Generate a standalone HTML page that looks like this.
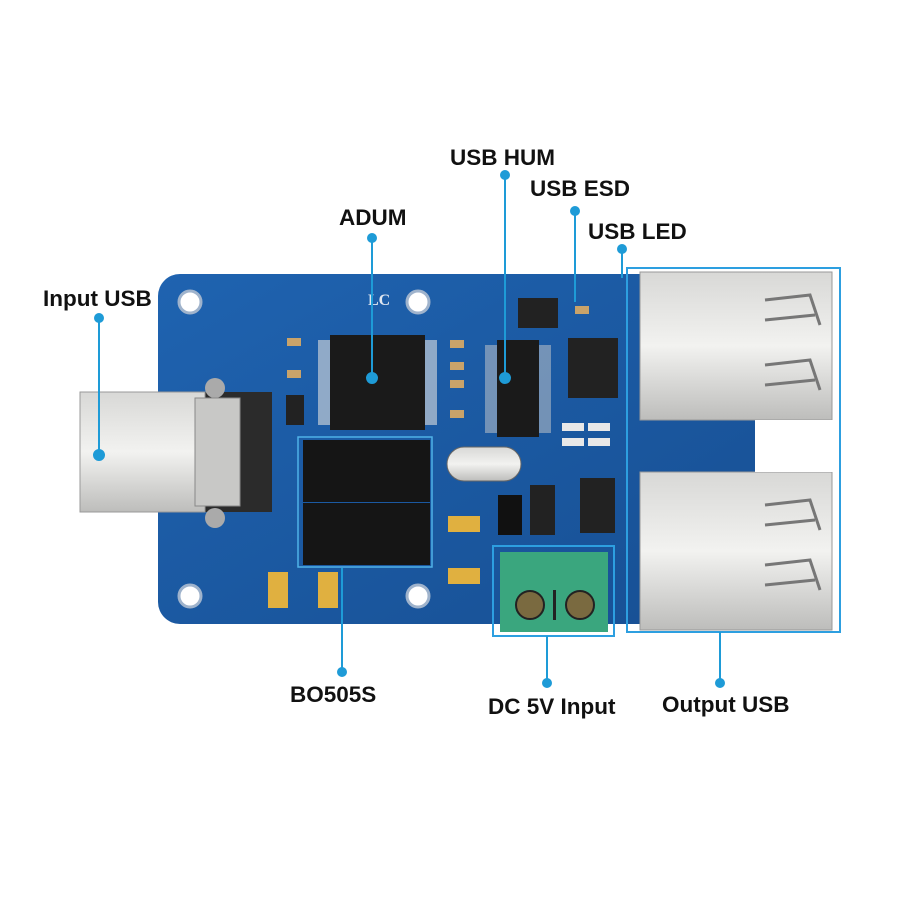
<!DOCTYPE html>
<html><head><style>
body{margin:0;background:#fff;width:900px;height:900px;overflow:hidden}
svg{display:block}
text{font-family:"Liberation Sans",sans-serif;font-weight:bold;font-size:22.5px;fill:#111}
</style></head><body>
<svg width="900" height="900" viewBox="0 0 900 900">
<defs>
<linearGradient id="pcb" x1="0" y1="0" x2="1" y2="1"><stop offset="0" stop-color="#1f63b0"/><stop offset="1" stop-color="#174f93"/></linearGradient>
<linearGradient id="silver" x1="0" y1="0" x2="0" y2="1"><stop offset="0" stop-color="#d8d8d6"/><stop offset="0.5" stop-color="#f2f2f0"/><stop offset="1" stop-color="#bdbdbb"/></linearGradient>
</defs>
<rect x="158" y="274" width="600" height="350" rx="22" fill="url(#pcb)"/>
<g fill="#fff" stroke="#9fb3cc" stroke-width="3">
<circle cx="190" cy="302" r="11"/><circle cx="418" cy="302" r="11"/>
<circle cx="190" cy="596" r="11"/><circle cx="418" cy="596" r="11"/>
</g>
<text x="368" y="305" style="font-family:'Liberation Serif',serif;font-size:16px;fill:#dfe6f0">LC</text>
<rect x="200" y="392" width="72" height="120" fill="#2b2b2b"/>
<circle cx="215" cy="388" r="10" fill="#aaa"/><circle cx="215" cy="518" r="10" fill="#aaa"/>
<rect x="80" y="392" width="125" height="120" fill="url(#silver)" stroke="#999"/>
<rect x="195" y="398" width="45" height="108" fill="#c8c8c6" stroke="#888"/>
<rect x="330" y="335" width="95" height="95" fill="#1a1a1a"/>
<g fill="#ddd"><rect x="318" y="340" width="12" height="85" opacity=".6"/><rect x="425" y="340" width="12" height="85" opacity=".6"/></g>
<g fill="#c9a36a"><rect x="287" y="338" width="14" height="8"/><rect x="287" y="370" width="14" height="8"/><rect x="450" y="340" width="14" height="8"/><rect x="450" y="362" width="14" height="8"/><rect x="450" y="380" width="14" height="8"/><rect x="450" y="410" width="14" height="8"/><rect x="575" y="306" width="14" height="8"/></g>
<g fill="#222"><rect x="286" y="395" width="18" height="30"/><rect x="518" y="298" width="40" height="30"/><rect x="568" y="338" width="50" height="60"/><rect x="580" y="478" width="35" height="55"/><rect x="530" y="485" width="25" height="50"/></g>
<rect x="497" y="340" width="42" height="97" fill="#1a1a1a"/>
<rect x="485" y="345" width="12" height="88" fill="#ccc" opacity=".5"/><rect x="539" y="345" width="12" height="88" fill="#ccc" opacity=".5"/>
<rect x="298" y="437" width="134" height="130" fill="none" stroke="#4fb2e8" stroke-width="1.5"/>
<rect x="303" y="440" width="127" height="62" fill="#151515"/>
<rect x="303" y="503" width="127" height="62" fill="#151515"/>
<rect x="447" y="447" width="74" height="34" rx="17" fill="url(#silver)" stroke="#666"/>
<g fill="#e0b040"><rect x="268" y="572" width="20" height="36"/><rect x="318" y="572" width="20" height="36"/><rect x="448" y="516" width="32" height="16"/><rect x="448" y="568" width="32" height="16"/></g>
<rect x="498" y="495" width="24" height="40" fill="#111"/>
<g fill="#e8e8e8"><rect x="562" y="423" width="22" height="8"/><rect x="588" y="423" width="22" height="8"/><rect x="562" y="438" width="22" height="8"/><rect x="588" y="438" width="22" height="8"/></g>
<rect x="500" y="552" width="108" height="80" fill="#3aa67e"/>
<circle cx="530" cy="605" r="14" fill="#7a6a40" stroke="#222" stroke-width="2"/>
<circle cx="580" cy="605" r="14" fill="#7a6a40" stroke="#222" stroke-width="2"/>
<rect x="553" y="590" width="3" height="30" fill="#222"/>
<rect x="493" y="546" width="121" height="90" fill="none" stroke="#2d9fe0" stroke-width="2"/>
<rect x="640" y="272" width="192" height="148" fill="url(#silver)" stroke="#999"/>
<rect x="640" y="472" width="192" height="158" fill="url(#silver)" stroke="#999"/>
<rect x="755" y="420" width="80" height="52" fill="#fff"/>
<g fill="none" stroke="#777" stroke-width="3">
<path d="M765 300 L810 295 L820 325 M765 320 L815 315"/>
<path d="M765 365 L810 360 L820 390 M765 385 L815 380"/>
<path d="M765 505 L810 500 L820 530 M765 525 L815 520"/>
<path d="M765 565 L810 560 L820 590 M765 585 L815 580"/>
</g>
<rect x="627" y="268" width="213" height="364" fill="none" stroke="#2d9fe0" stroke-width="2"/>
<g stroke="#1e9bd7" stroke-width="2" fill="#1e9bd7">
<line x1="99" y1="318" x2="99" y2="455"/><circle cx="99" cy="318" r="4"/><circle cx="99" cy="455" r="5"/>
<line x1="372" y1="238" x2="372" y2="378"/><circle cx="372" cy="238" r="4"/><circle cx="372" cy="378" r="5"/>
<line x1="505" y1="175" x2="505" y2="378"/><circle cx="505" cy="175" r="4"/><circle cx="505" cy="378" r="5"/>
<line x1="575" y1="211" x2="575" y2="302"/><circle cx="575" cy="211" r="4"/>
<line x1="622" y1="249" x2="622" y2="278"/><circle cx="622" cy="249" r="4"/>
<line x1="342" y1="568" x2="342" y2="672"/><circle cx="342" cy="672" r="4"/>
<line x1="547" y1="636" x2="547" y2="683"/><circle cx="547" cy="683" r="4"/>
<line x1="720" y1="632" x2="720" y2="683"/><circle cx="720" cy="683" r="4"/>
</g>
<text x="43" y="306">Input USB</text>
<text x="339" y="225">ADUM</text>
<text x="450" y="165">USB HUM</text>
<text x="530" y="196">USB ESD</text>
<text x="588" y="239">USB LED</text>
<text x="290" y="702">BO505S</text>
<text x="488" y="714">DC 5V Input</text>
<text x="662" y="712">Output USB</text>
</svg>
</body></html>
